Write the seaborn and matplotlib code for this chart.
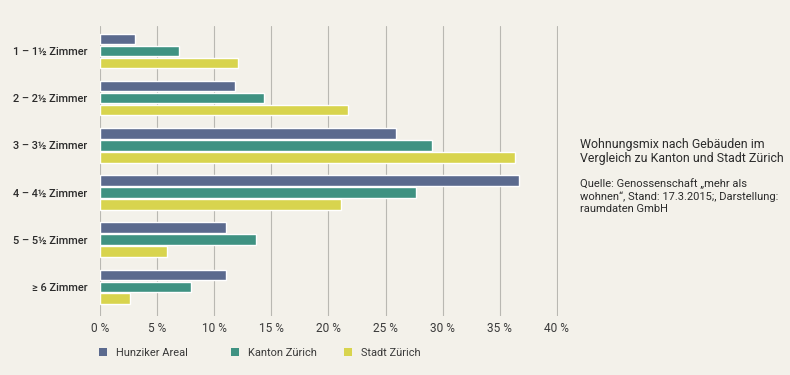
import pandas as pd
import matplotlib.pyplot as plt
import seaborn as sns
from matplotlib.patches import Patch

# data (share of flats in %)
categories = ["1 – 1½ Zimmer", "2 – 2½ Zimmer", "3 – 3½ Zimmer",
              "4 – 4½ Zimmer", "5 – 5½ Zimmer", "≥ 6 Zimmer"]
series = ["Hunziker Areal", "Kanton Zürich", "Stadt Zürich"]
hunziker = [3.1, 11.8, 25.9, 36.7, 11.0, 11.0]
kanton = [6.9, 14.4, 29.1, 27.7, 13.7, 8.0]
stadt = [12.1, 21.7, 36.3, 21.1, 5.9, 2.6]
x_ticks = [0, 5, 10, 15, 20, 25, 30, 35, 40]

colors = ["#5b6a8e", "#3f9282", "#d8d44e"]
bg = "#f3f1ea"
txt = "#2b2b2b"

rows = []
for name, vals in zip(series, [hunziker, kanton, stadt]):
    for cat, v in zip(categories, vals):
        rows.append({"Zimmer": cat, "Serie": name, "Anteil": v})
df = pd.DataFrame(rows)

sns.set_style("white")
plt.rcParams["font.family"] = ["Roboto", "DejaVu Sans"]

fig = plt.figure(figsize=(7.9, 3.75), dpi=100, facecolor=bg)
ax = fig.add_axes([100 / 790, 1 - 316 / 375, 458 / 790, 290 / 375])
ax.set_facecolor(bg)

sns.barplot(data=df, y="Zimmer", x="Anteil", hue="Serie", order=categories,
            hue_order=series, palette=colors, orient="h", width=0.76,
            gap=0.12, saturation=1, legend=False, ax=ax)

ax.set_xlim(0, 40.1)
ax.set_ylim(5.62, -0.53)
ax.set_xticks(x_ticks)
ax.set_xticklabels([f"{t} %" for t in x_ticks])
ax.xaxis.grid(True, color="#b9b8b2", linewidth=0.8)
ax.set_axisbelow(True)
for s in ax.spines.values():
    s.set_visible(False)
ax.tick_params(axis="x", length=0, pad=4, labelsize=8.6, labelcolor="#3a3a3a")
ax.tick_params(axis="y", length=0, pad=9, labelsize=7.9, labelcolor=txt)
for lab in ax.get_yticklabels():
    lab.set_fontweight("medium")
ax.set_xlabel("")
ax.set_ylabel("")

fig.text(580 / 790, 1 - 151.5 / 375, "Wohnungsmix nach Gebäuden im\nVergleich zu Kanton und Stadt Zürich",
         fontsize=8.9, color=txt, va="center", linespacing=1.12)
fig.text(580 / 790, 1 - 196 / 375, "Quelle: Genossenschaft „mehr als\nwohnen“, Stand: 17.3.2015;, Darstellung:\nraumdaten GmbH",
         fontsize=8.0, color=txt, va="center", linespacing=1.25)

# one legend per entry, placed like the reference
legend_x = [97, 229, 342]
for name, c, lx in zip(series, colors, legend_x):
    leg = fig.legend([Patch(facecolor=c, edgecolor="none")], [name], loc="center left",
                     bbox_to_anchor=(lx / 790, 1 - 353 / 375), frameon=False, fontsize=7.9,
                     handlelength=0.75, handleheight=0.75, handletextpad=0.8,
                     borderaxespad=0, borderpad=0.2, labelcolor="#3a3a3a")

fig.savefig("out.png", dpi=100, facecolor=bg)
